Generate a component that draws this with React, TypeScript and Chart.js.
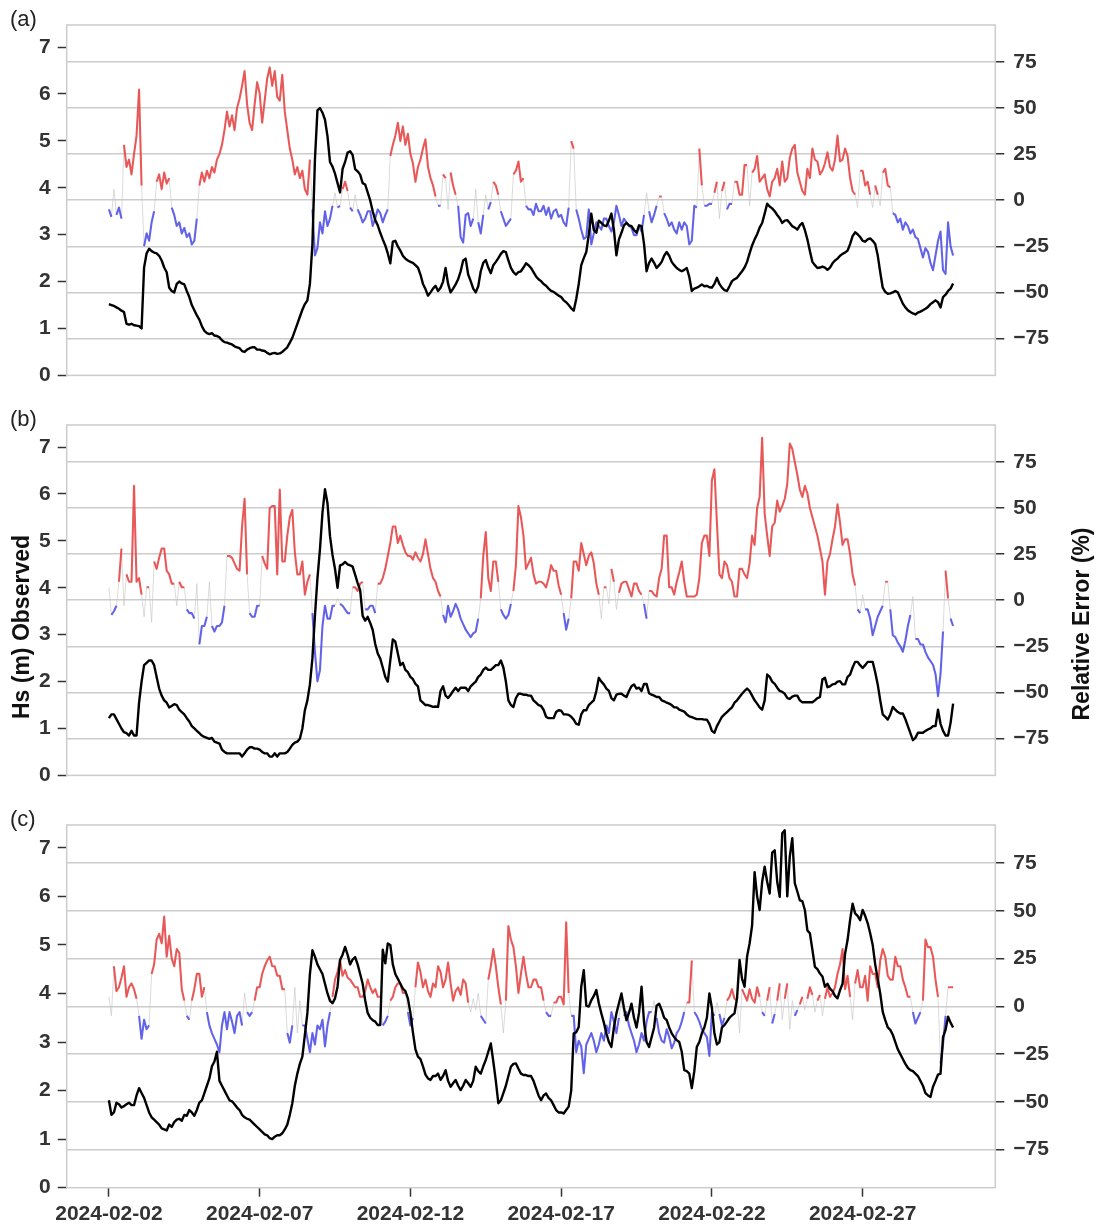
import { useEffect, useRef } from "react";
import { Chart, registerables } from "chart.js";

Chart.register(...registerables);

// Samples every 2 hours starting 2024-02-02 00:00 (x is in days from that instant)
const STEP_DAYS = 2 / 24;

const DATE_TICKS = [0, 5, 10, 15, 20, 25];
const DATE_LABELS = ["2024-02-02", "2024-02-07", "2024-02-12", "2024-02-17", "2024-02-22", "2024-02-27"];
const HS_TICKS = [0, 1, 2, 3, 4, 5, 6, 7];
const ERR_TICKS = [-75, -50, -25, 0, 25, 50, 75];

// (a) observed significant wave height (m), one row per day
const hsA = [
  1.52, 1.5, 1.48, 1.45, 1.42, 1.38, 1.35, 1.1, 1.08, 1.1, 1.07, 1.06,
  1.05, 1.0, 2.3, 2.6, 2.7, 2.65, 2.62, 2.6, 2.55, 2.45, 2.3, 2.2,
  1.87, 1.8, 1.77, 1.95, 2.0, 1.96, 1.94, 1.8, 1.67, 1.5, 1.39, 1.28,
  1.19, 1.05, 0.95, 0.9, 0.88, 0.9, 0.85, 0.84, 0.81, 0.75, 0.71, 0.7,
  0.68, 0.66, 0.62, 0.6, 0.58, 0.52, 0.5, 0.55, 0.58, 0.6, 0.6, 0.55,
  0.55, 0.53, 0.52, 0.48, 0.45, 0.47, 0.48, 0.46, 0.47, 0.5, 0.55, 0.6,
  0.7, 0.8, 0.95, 1.1, 1.25, 1.4, 1.52, 1.6, 1.95, 2.8, 4.6, 5.65,
  5.7, 5.6, 5.45, 5.1, 4.55, 4.45, 4.3, 4.1, 3.9, 4.4, 4.55, 4.75,
  4.78, 4.7, 4.4, 4.35, 4.28, 4.1, 4.07, 3.9, 3.73, 3.5, 3.31, 3.2,
  3.04, 2.9, 2.77, 2.6, 2.39, 2.85, 2.87, 2.75, 2.66, 2.55, 2.49, 2.45,
  2.42, 2.4, 2.35, 2.3, 2.15, 1.95, 1.84, 1.7, 1.77, 1.85, 1.91, 1.8,
  1.87, 2.0, 2.29, 1.95, 1.77, 1.85, 1.94, 2.05, 2.22, 2.45, 2.49, 2.15,
  2.01, 1.85, 1.77, 1.9, 2.22, 2.4, 2.46, 2.3, 2.18, 2.35, 2.42, 2.5,
  2.59, 2.65, 2.63, 2.45, 2.29, 2.2, 2.15, 2.2, 2.22, 2.3, 2.39, 2.35,
  2.29, 2.2, 2.11, 2.05, 2.01, 1.95, 1.91, 1.85, 1.8, 1.78, 1.74, 1.7,
  1.67, 1.6, 1.56, 1.5, 1.43, 1.38, 1.63, 1.95, 2.35, 2.5, 2.63, 3.0,
  3.45, 3.1, 3.04, 3.3, 3.25, 3.2, 3.18, 3.3, 3.45, 3.1, 2.56, 2.9,
  3.04, 3.2, 3.25, 3.2, 3.18, 3.1, 3.04, 3.2, 3.18, 2.8, 2.22, 2.4,
  2.49, 2.4, 2.29, 2.35, 2.42, 2.55, 2.63, 2.55, 2.42, 2.35, 2.29, 2.25,
  2.22, 2.25, 2.29, 2.1, 1.8, 1.85, 1.87, 1.9, 1.94, 1.9, 1.91, 1.88,
  1.87, 1.95, 2.08, 1.95, 1.87, 1.82, 1.8, 1.9, 2.01, 2.05, 2.08, 2.15,
  2.22, 2.3, 2.42, 2.6, 2.77, 2.9, 3.01, 3.15, 3.25, 3.45, 3.66, 3.6,
  3.56, 3.5, 3.42, 3.35, 3.25, 3.3, 3.31, 3.25, 3.18, 3.15, 3.11, 3.2,
  3.25, 3.1, 2.9, 2.65, 2.42, 2.35, 2.29, 2.3, 2.32, 2.3, 2.25, 2.3,
  2.39, 2.45, 2.49, 2.55, 2.59, 2.62, 2.66, 2.8, 2.97, 3.05, 3.01, 2.95,
  2.87, 2.85, 2.9, 2.92, 2.87, 2.8, 2.56, 2.2, 1.87, 1.78, 1.74, 1.75,
  1.77, 1.8, 1.77, 1.65, 1.53, 1.45, 1.39, 1.35, 1.32, 1.3, 1.34, 1.36,
  1.39, 1.42, 1.46, 1.52, 1.56, 1.6, 1.56, 1.45, 1.67, 1.72, 1.8, 1.85,
  1.96,
];

// (a) relative error (%)
const errA = [
  -5, -9, 6, -8, -4, -10, 30, 18, 22, 14, 25, 35,
  60, 8, -25, -18, -22, -12, -6, 10, 14, 6, 15, 9,
  12, -4, -8, -14, -12, -18, -15, -20, -18, -24, -22, -10,
  8, 15, 10, 16, 12, 18, 15, 22, 25, 30, 38, 48,
  40, 46, 38, 50, 55, 62, 70, 52, 42, 38, 52, 64,
  58, 42, 54, 66, 72, 62, 70, 56, 54, 68, 48, 38,
  28, 22, 14, 18, 12, 16, 6, 3, 22, -5, -30, -26,
  -12, -18, -6, -14, -10, -3, 4, -4, -3, 6, 10, 5,
  -4, -6, 3, -5, -8, -12, -10, -6, -6, -14, -10, -5,
  -7, -12, -8, -5, 24, 30, 35, 42, 32, 40, 30, 36,
  25, 20, 10, 18, 22, 28, 33, 18, 12, 8, 2, -3,
  -3, 14, 12, -5, 15, 8, 3, -3, -20, -23, -8, -7,
  -14, -10, 6, -12, -18, -8, 3, -5, -1, 10, 8, 3,
  -6, -10, -14, -12, -10, 14, 16, 21, 10, 12, -3, -5,
  -5, -8, -2, -6, -6, -3, -8, -4, -10, -6, -5, -9,
  -8, -12, -14, -4, 32, 28, -5, -10, -16, -21, -20, -5,
  -24, -18, -12, -14, -16, -10, -10, -14, -17, -12, -3, -8,
  -14, -10, -12, -14, -15, -19, -19, -14, -17, -8, 4, -6,
  -12, -8, -3, 2, 2, -7, -10, -14, -12, -16, -18, -12,
  -16, -12, -14, -24, -22, -3, -4, 28, 8, -3, -3, -2,
  -2, 4, 10, -10, 5, 10, -5, -2, -2, 10, 10, 3,
  3, 19, 19, -3, 15, 17, 24, 10, 12, 14, 6, 2,
  10, 12, 17, 8, 21, 10, 12, 23, 28, 30, 15, 10,
  5, 3, 17, 12, 28, 22, 21, 14, 16, 20, 26, 18,
  16, 22, 35, 21, 22, 28, 24, 12, 5, 3, -4, 16,
  16, 8, 10, 3, -4, 8, 3, -3, 15, 17, 8, 7,
  -7, -8, -12, -10, -16, -12, -14, -18, -16, -20, -21, -26,
  -31, -26, -28, -34, -38, -30, -22, -17, -38, -40, -12, -25,
  -30,
];

// (b) observed significant wave height (m)
const hsB = [
  1.22, 1.3, 1.3, 1.2, 1.1, 1.0, 0.92, 0.9, 0.85, 0.95, 0.85, 0.85,
  1.55, 2.0, 2.35, 2.4, 2.45, 2.45, 2.35, 2.1, 1.85, 1.7, 1.6, 1.55,
  1.45, 1.48, 1.52, 1.5, 1.4, 1.35, 1.3, 1.22, 1.15, 1.05, 1.0, 0.95,
  0.9, 0.85, 0.82, 0.8, 0.78, 0.8, 0.72, 0.7, 0.68, 0.55, 0.5, 0.47,
  0.47, 0.47, 0.47, 0.47, 0.47, 0.4, 0.47, 0.55, 0.6, 0.6, 0.57, 0.57,
  0.55, 0.5, 0.47, 0.47, 0.4, 0.4, 0.47, 0.4, 0.47, 0.47, 0.47, 0.5,
  0.57, 0.65, 0.7, 0.72, 0.78, 1.0, 1.39, 1.6, 1.94, 2.5, 3.4, 4.2,
  4.82, 5.6, 6.1, 5.8, 5.1, 4.7, 4.4, 4.0, 4.48, 4.5, 4.55, 4.5,
  4.48, 4.45, 4.28, 4.1, 3.95, 3.4, 3.3, 3.38, 3.25, 3.1, 2.8, 2.6,
  2.49, 2.3, 2.1, 2.0, 2.45, 2.9, 2.85, 2.6, 2.35, 2.4, 2.25, 2.2,
  2.1, 2.05, 1.95, 1.9, 1.6, 1.55, 1.5, 1.5, 1.48, 1.46, 1.47, 1.46,
  1.8, 1.9, 1.7, 1.65, 1.72, 1.8, 1.87, 1.8, 1.87, 1.87, 1.87, 1.8,
  1.9, 1.95, 2.0, 2.1, 2.15, 2.25, 2.3, 2.25, 2.25, 2.3, 2.35, 2.35,
  2.45, 2.3, 2.0, 1.6, 1.5, 1.46, 1.65, 1.74, 1.74, 1.72, 1.72, 1.7,
  1.7, 1.6, 1.55, 1.5, 1.48, 1.4, 1.25, 1.22, 1.22, 1.22, 1.35, 1.39,
  1.38, 1.3, 1.3, 1.29, 1.25, 1.19, 1.1, 1.08, 1.3, 1.39, 1.39, 1.5,
  1.55, 1.6, 1.8, 2.08, 2.0, 1.94, 1.85, 1.8, 1.65, 1.6, 1.72, 1.74,
  1.74, 1.7, 1.67, 1.8, 1.9, 1.94, 1.85, 1.87, 1.8, 1.95, 1.95, 1.75,
  1.72, 1.7, 1.67, 1.67, 1.6, 1.58, 1.55, 1.53, 1.5, 1.45, 1.45, 1.4,
  1.38, 1.36, 1.3, 1.26, 1.24, 1.22, 1.2, 1.2, 1.2, 1.19, 1.19, 1.1,
  0.95, 0.91, 1.05, 1.15, 1.25, 1.3, 1.35, 1.4, 1.45, 1.55, 1.6, 1.67,
  1.74, 1.8, 1.85, 1.8, 1.7, 1.6, 1.53, 1.45, 1.4, 1.6, 2.15, 2.1,
  2.0, 1.95, 1.87, 1.8, 1.78, 1.74, 1.65, 1.63, 1.68, 1.7, 1.7, 1.6,
  1.56, 1.56, 1.56, 1.56, 1.56, 1.6, 1.65, 1.67, 2.05, 2.08, 1.88, 1.9,
  1.94, 1.95, 2.0, 2.01, 1.94, 1.94, 2.1, 2.15, 2.3, 2.42, 2.42, 2.35,
  2.29, 2.35, 2.42, 2.42, 2.42, 2.2, 1.94, 1.6, 1.3, 1.25, 1.19, 1.3,
  1.46, 1.4, 1.35, 1.32, 1.32, 1.2, 1.05, 0.9, 0.75, 0.8, 0.91, 0.91,
  0.91, 0.95, 0.98, 1.0, 1.05, 1.05, 1.4, 1.1, 0.95, 0.85, 0.85, 1.12,
  1.53,
];

// (b) relative error (%)
const errB = [
  7, -8, -6, -3, 10, 28, -3, 14, 10, 10, 62, 10,
  12, 3, -9, 7, 7, -12, 21, 17, 23, 28, 28, 16,
  14, 9, 9, -3, 10, 7, 7, -5, -7, -7, -10, 9,
  -24, -14, -14, -9, 10, -14, -17, -14, -14, -12, -3, 24,
  24, 23, 20, 17, 16, 40, 55, 14, -7, -9, -9, -3,
  -3, 24, 20, 17, 50, 51, 51, 14, 60, 21, 21, 35,
  45, 49, 26, 14, 14, 21, 3, 10, 14, -7, -28, -44,
  -38, -14, -3, -10, -10, -3, -3, 1, -2, -3, -5, -7,
  -7, 7, 7, 5, 9, 10, -5, -5, -3, -3, -7, 9,
  9, 12, 17, 24, 31, 40, 40, 31, 35, 30, 26, 24,
  24, 22, 26, 23, 21, 25, 33, 25, 17, 12, 10, 5,
  2, -8, -12, -3, -9, -6, -2, -5, -10, -13, -16, -18,
  -20, -18, -17, -10, 1, 24, 37, 12, 5, 21, 21, 10,
  -5, -8, -10, -8, -2, 5, 19, 51, 45, 35, 17, 20,
  23, 14, 9, 10, 10, 9, 7, 12, 19, 16, 16, 8,
  3, -7, -16, -10, 1, 21, 21, 16, 31, 25, 19, 24,
  26, 20, 9, 3, -10, 7, 7, -2, 17, 10, -5, 4,
  9, 10, 10, 6, 2, 9, 9, 5, 3, -2, -10, 5,
  5, 3, 2, 12, 17, 35, 35, 7, 7, 3, 10, 15,
  21, 10, 2, 2, 2, 2, 3, 12, 31, 35, 35, 24,
  65, 71, 42, 14, 12, 21, 19, 12, 10, 2, 2, 17,
  17, 14, 12, 20, 35, 30, 50, 56, 88, 47, 35, 24,
  40, 42, 54, 48, 51, 55, 63, 85, 82, 75, 68, 60,
  56, 62, 58, 50, 45, 40, 35, 28, 21, 3, 21, 25,
  33, 40, 52, 42, 30, 33, 33, 25, 14, 8, -5, -7,
  3, -5, -5, -10, -19, -14, -9, -6, -3, 10, 10, -5,
  -19, -20, -23, -25, -28, -22, -14, -8, 2, -21, -21, -24,
  -24, -28, -31, -33, -35, -40, -52, -40, -17, 16, 1, -10,
  -14,
];

// (c) observed significant wave height (m)
const hsC = [
  1.8, 1.5, 1.55, 1.75, 1.72, 1.65, 1.68, 1.72, 1.75, 1.7, 1.7, 1.9,
  2.05, 1.95, 1.85, 1.7, 1.55, 1.45, 1.4, 1.35, 1.3, 1.22, 1.2, 1.18,
  1.3, 1.25, 1.35, 1.4, 1.42, 1.38, 1.5, 1.48, 1.6, 1.55, 1.48, 1.6,
  1.75, 1.8, 1.95, 2.1, 2.25, 2.5, 2.6, 2.8, 2.2, 2.1, 2.0, 1.9,
  1.8, 1.78, 1.72, 1.65, 1.6, 1.5, 1.45, 1.42, 1.4, 1.35, 1.3, 1.25,
  1.2, 1.15, 1.1, 1.08, 1.02, 1.0, 1.05, 1.08, 1.08, 1.12, 1.2, 1.3,
  1.5, 1.74, 2.1, 2.35, 2.55, 2.7, 3.15, 3.6, 4.4, 4.89, 4.76, 4.6,
  4.5, 4.4, 4.2, 4.0, 3.85, 3.8, 3.9, 4.14, 4.69, 4.8, 4.96, 4.8,
  4.6, 4.7, 4.75, 4.6, 4.4, 4.2, 3.86, 3.6, 3.5, 3.45, 3.42, 3.35,
  3.35, 4.9, 4.62, 5.03, 5.0, 4.6, 4.4, 4.3, 4.2, 4.1, 4.05, 3.9,
  3.6, 3.2, 2.85, 2.7, 2.65, 2.5, 2.33, 2.25, 2.22, 2.3, 2.3, 2.35,
  2.22, 2.3, 2.42, 2.2, 2.08, 2.15, 2.22, 2.1, 2.01, 2.1, 2.22, 2.15,
  2.08, 2.2, 2.49, 2.4, 2.35, 2.5, 2.63, 2.8, 2.97, 2.6, 2.2, 1.74,
  1.8, 1.95, 2.1, 2.3, 2.49, 2.55, 2.56, 2.45, 2.35, 2.32, 2.32, 2.3,
  2.3, 2.2, 2.05, 1.9, 1.8, 1.9, 1.94, 1.85, 1.8, 1.7, 1.6, 1.55,
  1.55, 1.53, 1.6, 1.67, 2.0, 3.18, 3.2, 3.31, 4.14, 4.48, 3.75, 3.73,
  3.86, 3.95, 4.07, 3.8, 3.59, 3.4, 3.18, 3.0, 2.9, 3.3, 3.59, 3.8,
  4.0, 3.7, 3.45, 3.6, 3.79, 3.5, 3.3, 3.6, 4.14, 3.4, 3.0, 2.9,
  3.1, 3.3, 3.75, 3.79, 3.66, 3.5, 3.45, 3.3, 3.18, 3.1, 3.04, 3.0,
  2.8, 2.42, 2.4, 2.35, 2.05, 2.4, 2.9, 3.0, 3.18, 3.3, 3.5, 4.0,
  3.7, 3.18, 2.95, 3.0, 3.3, 3.35, 3.42, 3.5, 3.55, 3.59, 3.9, 4.69,
  4.3, 4.14, 4.76, 5.03, 5.4, 6.5, 6.0, 5.72, 6.3, 6.61, 6.3, 6.06,
  6.9, 6.95, 6.3, 5.99, 7.3, 7.36, 6.0, 6.82, 7.2, 6.27, 6.1, 5.92,
  5.9, 5.72, 5.3, 5.24, 4.9, 4.55, 4.5, 4.41, 4.35, 4.14, 4.2, 4.1,
  4.05, 3.95, 3.9, 4.07, 4.2, 4.82, 5.1, 5.51, 5.85, 5.65, 5.6, 5.51,
  5.72, 5.6, 5.45, 5.24, 5.0, 4.6, 4.3, 4.0, 3.62, 3.45, 3.3, 3.25,
  3.15, 3.0, 2.85, 2.75, 2.65, 2.55, 2.47, 2.42, 2.4, 2.35, 2.3, 2.2,
  2.1, 1.95, 1.9, 1.87, 2.08, 2.2, 2.33, 2.35, 3.1, 3.25, 3.52, 3.4,
  3.3,
];

// (c) relative error (%)
const errC = [
  5, -5, 21, 8, 10, 15, 21, 5, 10, 12, 9, 4,
  -5, -17, -7, -12, -10, 17, 22, 35, 38, 33, 47, 26,
  37, 25, 21, 30, 28, 9, 3, -5, -7, 3, 9, 17,
  17, 5, 10, -3, -10, -14, -17, -20, -24, -10, -3, -12,
  -3, -8, -14, -5, -3, -10, 7, -3, -5, -3, 3, 10,
  10, 17, 21, 24, 26, 21, 21, 16, 16, 9, 9, -14,
  -19, -10, 10, -14, 3, -10, -10, -17, -24, -14, -20, -10,
  -12, -7, -21, -10, -3, 5, 14, 18, 24, 16, 19, 15,
  14, 12, 10, 10, 5, 5, 8, 14, 10, 7, 9, 5,
  5, -10, -8, -5, 3, 5, 10, 12, 12, 7, 7, -3,
  -10, -6, 10, 23, 18, 10, 14, 8, 5, 12, 10, 21,
  18, 10, 14, 23, 12, 3, 8, 10, 6, 14, 12, 2,
  -3, 4, -2, 7, -5, -7, -9, 14, 21, 30, 21, 10,
  1, -14, 3, 42, 35, 31, 21, 7, 17, 26, 17, 10,
  10, 14, 14, 10, 10, 3, -3, -5, -5, 2, 2, 5,
  5, 1, 44, 7, -5, -5, -24, -18, -21, -35, -20, -17,
  -14, -18, -24, -20, -14, -18, -10, -14, -3, -8, -14, -6,
  3, -5, -3, -10, -14, -18, -24, -20, -14, -18, -8, -3,
  -3, 3, -6, -14, -18, -19, -12, -16, -22, -19, -14, -12,
  -8, -3, 2, 2, 24, -3, -5, -8, -12, -14, -16, -26,
  -3, -5, 2, -4, -10, -6, 3, 5, 9, 4, 3, -14,
  9, 6, 3, 9, 4, 2, 10, 5, -3, -5, 3, 10,
  -9, -4, 3, 12, -7, 4, 12, -12, 3, -5, -2, 1,
  5, -2, 4, 10, 6, -3, 3, 6, -5, 4, 10, 5,
  7, 10, 17, 22, 30, 9, 16, 5, -7, 12, 19, 10,
  10, 16, 3, 21, 17, 17, 10, 24, 30, 26, 16, 14,
  14, 26, 21, 21, 14, 10, 5, 5, -3, -9, -6, -3,
  3, 35, 31, 31, 26, 14, 5, -30, -20, -5, 10, 10,
  10,
];

const FONT = "'Liberation Sans', Arial, Helvetica, sans-serif";
const TEXT = "#333333";
const FRAME = "#cccccc";
const WIDTH = 1101;
const PLOT_LEFT = 66.7;
const PLOT_RIGHT = 995.3;
const PLOT_TOP = 25;
const PLOT_BOTTOM = 387.7;

type PanelProps = {
  tag: string;
  hs: number[];
  err: number[];
  top: number;
  height: number;
  showDates: boolean;
  showTitles: boolean;
};

function series(values: number[], keep: (v: number) => boolean) {
  return values.map((v, i) => ({ x: i * STEP_DAYS, y: keep(v) ? v : null }));
}

function Panel({ tag, hs, err, top, height, showDates, showTitles }: PanelProps) {
  const ref = useRef<HTMLCanvasElement>(null);

  useEffect(() => {
    const canvas = ref.current;
    if (!canvas) return;

    // plot frame, panel tag and the shared axis titles
    const decor = {
      id: "decor",
      beforeDatasetsDraw(chart: any) {
        const { ctx, chartArea } = chart;
        ctx.save();
        ctx.strokeStyle = FRAME;
        ctx.lineWidth = 1.5;
        ctx.strokeRect(chartArea.left, chartArea.top, chartArea.right - chartArea.left, chartArea.bottom - chartArea.top);
        ctx.restore();
      },
      afterDraw(chart: any) {
        const { ctx } = chart;
        ctx.save();
        ctx.fillStyle = "#222222";
        ctx.font = `22px ${FONT}`;
        ctx.textAlign = "left";
        ctx.textBaseline = "alphabetic";
        ctx.fillText(tag, 10, 26);
        if (showTitles) {
          ctx.fillStyle = "#111111";
          ctx.font = `bold 23px ${FONT}`;
          ctx.textAlign = "center";
          ctx.textBaseline = "middle";
          ctx.save();
          ctx.translate(23, 227);
          ctx.rotate(-Math.PI / 2);
          ctx.fillText("Hs (m) Observed", 0, 0);
          ctx.restore();
          ctx.save();
          ctx.translate(1083, 224);
          ctx.rotate(-Math.PI / 2);
          ctx.fillText("Relative Error (%)", 0, 0);
          ctx.restore();
        }
        ctx.restore();
      },
    };

    const tickFont = { family: FONT, size: 21, weight: "bold" as const };

    const chart = new Chart(canvas, {
      type: "line",
      data: {
        datasets: [
          {
            label: "Hs observed",
            data: series(hs, () => true),
            yAxisID: "yL",
            borderColor: "#000000",
            borderWidth: 2.4,
            order: 0,
          },
          {
            label: "Overestimate",
            data: series(err, (v) => v > 0),
            yAxisID: "yR",
            borderColor: "rgba(232,58,58,0.82)",
            borderWidth: 2.1,
            order: 1,
          },
          {
            label: "Underestimate",
            data: series(err, (v) => v < 0),
            yAxisID: "yR",
            borderColor: "rgba(58,58,232,0.76)",
            borderWidth: 2.1,
            order: 1,
          },
          {
            label: "Relative error",
            data: series(err, () => true),
            yAxisID: "yR",
            borderColor: "rgba(195,195,195,0.6)",
            borderWidth: 1,
            order: 2,
          },
        ],
      },
      options: {
        animation: false,
        responsive: false,
        devicePixelRatio: 1,
        parsing: false as any,
        normalized: true,
        spanGaps: false,
        elements: {
          point: { radius: 0, hitRadius: 0, hoverRadius: 0 },
          line: { tension: 0, borderJoinStyle: "round", borderCapStyle: "butt" },
        },
        layout: {
          padding: { top: PLOT_TOP, bottom: showDates ? 0 : 400 - PLOT_BOTTOM, left: 0, right: 0 },
        },
        plugins: {
          legend: { display: false },
          tooltip: { enabled: false },
          title: { display: false },
        },
        events: [],
        scales: {
          x: {
            type: "linear",
            min: -1.4,
            max: 29.4,
            display: showDates,
            afterBuildTicks: (axis: any) => {
              axis.ticks = DATE_TICKS.map((v) => ({ value: v }));
            },
            afterFit: (axis: any) => {
              axis.height = height - PLOT_BOTTOM;
            },
            border: { display: false },
            grid: {
              display: true,
              drawOnChartArea: false,
              drawTicks: true,
              tickLength: 9,
              tickColor: TEXT,
              tickWidth: 1.5,
            },
            ticks: {
              autoSkip: false,
              maxRotation: 0,
              minRotation: 0,
              padding: 5,
              color: TEXT,
              font: tickFont,
              callback: (v: any) => {
                const i = DATE_TICKS.indexOf(Number(v));
                return i >= 0 ? DATE_LABELS[i] : "";
              },
            },
          },
          yL: {
            type: "linear",
            position: "left",
            min: 0,
            max: 7.47,
            afterBuildTicks: (axis: any) => {
              axis.ticks = HS_TICKS.map((v) => ({ value: v }));
            },
            afterFit: (axis: any) => {
              axis.width = PLOT_LEFT;
            },
            border: { display: false },
            grid: {
              display: true,
              drawOnChartArea: false,
              drawTicks: true,
              tickLength: 9,
              tickColor: TEXT,
              tickWidth: 1.5,
            },
            ticks: {
              padding: 7,
              color: TEXT,
              font: tickFont,
              callback: (v: any) => String(v),
            },
          },
          yR: {
            type: "linear",
            position: "right",
            min: -95,
            max: 95,
            afterBuildTicks: (axis: any) => {
              axis.ticks = ERR_TICKS.map((v) => ({ value: v }));
            },
            afterFit: (axis: any) => {
              axis.width = WIDTH - PLOT_RIGHT;
            },
            border: { display: false },
            grid: {
              display: true,
              drawOnChartArea: true,
              color: FRAME,
              lineWidth: 1.5,
              drawTicks: true,
              tickLength: 9,
              tickColor: TEXT,
              tickWidth: 1.5,
            },
            ticks: {
              padding: 9,
              color: TEXT,
              font: tickFont,
              callback: (v: any) => (Number(v) < 0 ? "\u2212" + Math.abs(Number(v)) : String(v)),
            },
          },
        },
      },
      plugins: [decor],
    } as any);

    return () => chart.destroy();
  }, [tag, hs, err, height, showDates, showTitles]);

  return (
    <canvas
      ref={ref}
      width={WIDTH}
      height={height}
      style={{ position: "absolute", left: 0, top, width: WIDTH, height, display: "block" }}
    />
  );
}

export default function App() {
  return (
    <div style={{ position: "absolute", left: 0, top: 0, width: WIDTH, height: 1227, background: "#ffffff" }}>
      <Panel tag="(a)" hs={hsA} err={errA} top={0} height={400} showDates={false} showTitles={false} />
      <Panel tag="(b)" hs={hsB} err={errB} top={400} height={400} showDates={false} showTitles={true} />
      <Panel tag="(c)" hs={hsC} err={errC} top={800} height={427} showDates={true} showTitles={false} />
    </div>
  );
}
